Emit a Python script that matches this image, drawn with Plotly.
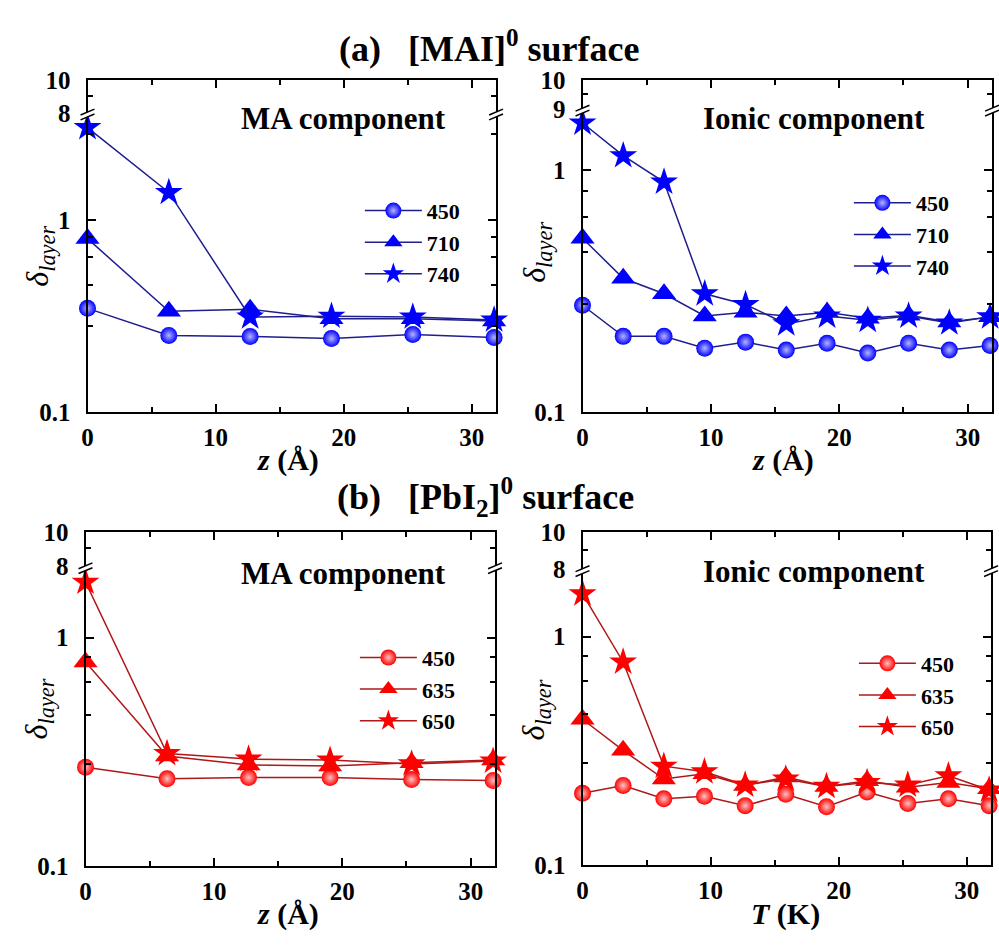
import plotly.graph_objects as go

W, H = 999, 948

# ---------------- data ----------------
z_MA = [0, 6.35, 12.7, 19.05, 25.4, 31.75]
z_ION = [0, 3.17, 6.35, 9.52, 12.7, 15.87, 19.05, 22.22, 25.4, 28.57, 31.75]

labels_a = ["450", "710", "740"]
labels_b = ["450", "635", "650"]

a_MA_450 = [0.347, 0.251, 0.248, 0.242, 0.254, 0.245]
a_MA_710 = [0.80, 0.335, 0.343, 0.306, 0.306, 0.298]
a_MA_740 = [3.02, 1.39, 0.313, 0.316, 0.313, 0.302]

a_ION_450 = [0.277, 0.206, 0.206, 0.184, 0.195, 0.181, 0.193, 0.176, 0.193, 0.181, 0.189]
a_ION_710 = [0.524, 0.358, 0.309, 0.250, 0.259, 0.250, 0.259, 0.245, 0.252, 0.236, 0.248]
a_ION_740 = [1.57, 1.15, 0.895, 0.309, 0.279, 0.232, 0.250, 0.240, 0.250, 0.234, 0.248]

b_MA_450 = [0.271, 0.241, 0.244, 0.244, 0.239, 0.237]
b_MA_635 = [0.783, 0.303, 0.277, 0.274, 0.283, 0.291]
b_MA_650 = [1.75, 0.311, 0.294, 0.291, 0.280, 0.288]

b_ION_450 = [0.206, 0.223, 0.195, 0.200, 0.182, 0.204, 0.180, 0.209, 0.186, 0.195, 0.182]
b_ION_635 = [0.435, 0.318, 0.238, 0.251, 0.223, 0.243, 0.221, 0.234, 0.219, 0.230, 0.216]
b_ION_650 = [1.54, 0.775, 0.271, 0.256, 0.224, 0.238, 0.221, 0.230, 0.224, 0.246, 0.213]

x_ticks = [0, 10, 20, 30]
x_minor = [5, 15, 25]
y_ticks = [0.1, 1]
y_minor = [0.28, 0.46, 0.64, 0.82, 2.8]

# ---------------- style / geometry (page pixels) ----------------
FONT = "Liberation Serif"
BLUE, NAVY = "#0000ff", "#1e1e8c"
RED, DRED = "#ff0000", "#b01818"


def px_x(p):
    return p / W


def px_y(p):
    return 1 - p / H


def clamp(v):
    return max(0.0, min(1.0, v))


panels = [
    dict(x0=82, x1=493, top=69, brk=103, one=213, bot=411, up_lo=8,
         z=z_MA, ys=[a_MA_450, a_MA_710, a_MA_740], names=labels_a,
         mc=BLUE, lc=NAVY, grad="#b4b4ff", comp="MA component", comp_xy=(340, 109),
         leg=(356, 182), ytitle=(34, 250), xtitle=("<i>z</i> (Å)", 284, 460)),
    dict(x0=580, x1=992, top=69, brk=99, one=162, bot=411, up_lo=9,
         z=z_ION, ys=[a_ION_450, a_ION_710, a_ION_740], names=labels_a,
         mc=BLUE, lc=NAVY, grad="#b4b4ff", comp="Ionic component", comp_xy=(813, 109),
         leg=(848, 174), ytitle=(534, 246), xtitle=("<i>z</i> (Å)", 782, 460)),
    dict(x0=80, x1=492, top=534, brk=570, one=643, bot=878, up_lo=8,
         z=z_MA, ys=[b_MA_450, b_MA_635, b_MA_650], names=labels_b,
         mc=RED, lc=DRED, grad="#ffc0c0", comp="MA component", comp_xy=(340, 577),
         leg=(351, 642), ytitle=(33, 716), xtitle=("<i>z</i> (Å)", 284, 927)),
    dict(x0=580, x1=991, top=534, brk=573, one=642, bot=877, up_lo=8,
         z=z_ION, ys=[b_ION_450, b_ION_635, b_ION_650], names=labels_b,
         mc=RED, lc=DRED, grad="#ffc0c0", comp="Ionic component", comp_xy=(813, 575),
         leg=(853, 648), ytitle=(533, 717), xtitle=("<i>T</i> (K)", 784, 927)),
]

symbols = ["circle", "triangle-up", "star"]
sizes = [17, 21, 21]

fig = go.Figure()
layout = {}
shapes = []
annotations = []

tickfont = dict(family=FONT, size=25, color="black", weight="bold")


def name(kind, n):
    return kind if n == 1 else f"{kind}{n}"


def lname(kind, n):
    return f"{kind}axis" if n == 1 else f"{kind}axis{n}"


for i, p in enumerate(panels, start=1):
    lo, up = i, i + 4
    leg_id = "legend" if i == 1 else f"legend{i}"
    for k in range(3):
        marker = dict(symbol=symbols[k], size=sizes[k], color=p["mc"], line=dict(width=0))
        if k == 0:
            marker["gradient"] = dict(type="radial", color=p["grad"])
        fig.add_trace(go.Scatter(
            x=p["z"], y=p["ys"][k], name=p["names"][k], mode="lines+markers",
            line=dict(color=p["lc"], width=1.5), marker=marker, cliponaxis=False,
            xaxis=name("x", lo), yaxis=name("y", lo), legend=leg_id))
    fig.add_trace(go.Scatter(x=[], y=[], xaxis=name("x", up), yaxis=name("y", up),
                             showlegend=False, hoverinfo="skip"))

    xdom = [clamp(px_x(p["x0"])), clamp(px_x(p["x1"]))]
    span = p["bot"] - p["one"]
    lo_top = (p["one"] - p["brk"]) / span
    common_x = dict(domain=xdom, range=[0, 31.9], tickvals=x_ticks,
                    ticks="inside", ticklen=8, tickwidth=2, tickcolor="black",
                    showline=True, linecolor="black", linewidth=2,
                    showgrid=False, zeroline=False,
                    minor=dict(tickvals=x_minor, ticks="inside", ticklen=5,
                               tickwidth=2, tickcolor="black", showgrid=False))
    layout[lname("x", lo)] = dict(common_x, anchor=name("y", lo), tickfont=tickfont,
                                  ticklabelstandoff=2)
    layout[lname("x", up)] = dict(common_x, anchor=name("y", up), side="top",
                                  showticklabels=False)
    common_y = dict(type="log", ticks="inside", ticklen=8, tickwidth=2, tickcolor="black",
                    showline=True, linecolor="black", linewidth=2, mirror="ticks",
                    showgrid=False, zeroline=False, tickfont=tickfont,
                    ticklabelstandoff=10)
    layout[lname("y", lo)] = dict(
        common_y, anchor=name("x", lo),
        domain=[clamp(px_y(p["bot"])), clamp(px_y(p["brk"]))], range=[-1, lo_top],
        tickvals=y_ticks, ticktext=["0.1", "1"],
        minor=dict(tickvals=y_minor, ticks="inside", ticklen=5, tickwidth=2,
                   tickcolor="black", showgrid=False))
    layout[lname("y", up)] = dict(
        common_y, anchor=name("x", up),
        domain=[clamp(px_y(p["brk"])), clamp(px_y(p["top"]))],
        range=[0.903 if p["up_lo"] == 8 else 0.954, 1],
        tickvals=[p["up_lo"], 10], ticktext=[str(p["up_lo"]), "10"],
        minor=dict(tickvals=[9] if p["up_lo"] == 8 else [9.5], ticks="inside", ticklen=5,
                   tickwidth=2, tickcolor="black", showgrid=False))

    layout[leg_id] = dict(x=px_x(p["leg"][0]), y=px_y(p["leg"][1]), xanchor="left",
                          yanchor="top", bgcolor="rgba(0,0,0,0)", itemwidth=57,
                          font=dict(family=FONT, size=22, color="black", weight="bold"),
                          tracegroupgap=0)

    # broken-axis marks
    for axp in (p["x0"], p["x1"]):
        yb = p["brk"]
        a1 = (axp - 7, yb + 2)
        b1 = (axp + 7, yb - 4)
        a2 = (axp - 7, yb + 7)
        b2 = (axp + 7, yb + 1)
        poly = f"M{px_x(a1[0])},{px_y(a1[1])} L{px_x(b1[0])},{px_y(b1[1])} " \
               f"L{px_x(b2[0])},{px_y(b2[1])} L{px_x(a2[0])},{px_y(a2[1])} Z"
        shapes.append(dict(type="path", path=poly, xref="paper", yref="paper",
                           fillcolor="white", line=dict(width=0), layer="above"))
        for a, b in ((a1, b1), (a2, b2)):
            shapes.append(dict(type="line", xref="paper", yref="paper",
                               x0=px_x(a[0]), y0=px_y(a[1]), x1=px_x(b[0]), y1=px_y(b[1]),
                               line=dict(color="black", width=1.5), layer="above"))

    annotations.append(dict(text=p["comp"], x=px_x(p["comp_xy"][0]), y=px_y(p["comp_xy"][1]),
                            xref="paper", yref="paper", showarrow=False,
                            xanchor="center", yanchor="middle",
                            font=dict(family=FONT, size=31, color="black", weight="bold")))
    annotations.append(dict(text="<i>δ<sub>layer</sub></i>", x=px_x(p["ytitle"][0]),
                            y=px_y(p["ytitle"][1]), xref="paper", yref="paper",
                            showarrow=False, textangle=-90, xanchor="center", yanchor="middle",
                            font=dict(family=FONT, size=32, color="black")))
    annotations.append(dict(text=p["xtitle"][0], x=px_x(p["xtitle"][1]), y=px_y(p["xtitle"][2]),
                            xref="paper", yref="paper", showarrow=False,
                            xanchor="center", yanchor="middle",
                            font=dict(family=FONT, size=30, color="black", weight="bold")))

sp = "\u00a0\u00a0\u00a0"
annotations.append(dict(text=f"(a){sp}[MAI]<sup>0</sup> surface", x=px_x(486), y=px_y(34),
                        xref="paper", yref="paper", showarrow=False,
                        xanchor="center", yanchor="middle",
                        font=dict(family=FONT, size=36, color="black", weight="bold")))
annotations.append(dict(text=f"(b){sp}[PbI<sub>2</sub>]<sup>0</sup> surface", x=px_x(482),
                        y=px_y(498), xref="paper", yref="paper", showarrow=False,
                        xanchor="center", yanchor="middle",
                        font=dict(family=FONT, size=36, color="black", weight="bold")))

fig.update_layout(width=W, height=H, margin=dict(l=0, r=0, t=0, b=0),
                  paper_bgcolor="white", plot_bgcolor="white",
                  shapes=shapes, annotations=annotations, **layout)

fig.write_html("out.html")
